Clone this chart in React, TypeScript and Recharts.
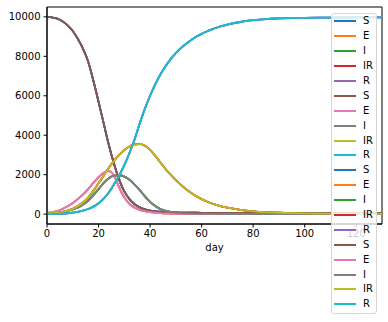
import React from "react";
import { LineChart, Line, XAxis, YAxis, ReferenceArea } from "recharts";

const days = [0,2,4,6,8,10,12,14,16,18,20,22,24,26,28,30,32,34,36,38,40,42,44,46,48,50,52,54,56,58,60,62,64,66,68,70,75,80,85,90,95,100,105,110,115,120,125,130];

const S = [10000,9970,9910,9780,9570,9280,8880,8380,7720,6760,5700,4600,3500,2550,1750,1150,760,500,340,240,180,145,120,105,95,85,80,75,72,70,68,66,65,64,63,62,61,60,60,59,59,59,58,58,58,58,58,58];
const E = [60,90,150,260,400,560,770,1000,1280,1580,1870,2100,2180,1950,1350,850,520,330,220,150,105,75,55,40,30,22,17,13,10,8,6,5,4,3,3,2,2,1,1,1,0,0,0,0,0,0,0,0];
const I = [30,40,60,100,160,240,340,490,690,960,1270,1580,1820,1950,1970,1900,1740,1500,1220,900,620,410,260,170,110,70,50,35,25,18,14,11,9,7,6,5,4,3,2,2,1,1,1,1,1,0,0,0];
const IR = [40,55,80,120,180,270,410,590,840,1180,1560,1950,2350,2700,3000,3250,3430,3540,3550,3470,3260,2960,2620,2290,2000,1720,1480,1260,1070,900,760,640,540,455,385,325,215,145,100,70,52,40,32,27,24,22,21,20];
const R = [0,5,12,25,45,75,115,175,260,380,550,790,1100,1500,1950,2480,3100,3800,4600,5350,6000,6580,7080,7500,7860,8160,8420,8640,8830,9000,9140,9260,9370,9460,9540,9610,9740,9830,9890,9920,9940,9950,9958,9964,9968,9971,9973,9975];

const seriesNames = ["S", "E", "I", "IR", "R"];
const groups = [0, 1, 2, 3];
const xTicks = [0, 20, 40, 60, 80, 100, 120];
const yTicks = [0, 2000, 4000, 6000, 8000, 10000];
const colors = ["#1f77b4","#ff7f0e","#2ca02c","#d62728","#9467bd","#8c564b","#e377c2","#7f7f7f","#bcbd22","#17becf"];

const seriesArrays: Record<string, number[]> = { S, E, I, IR, R };

const data = days.map((d, i) => {
  const row: Record<string, number> = { day: d };
  groups.forEach((g) => {
    seriesNames.forEach((n) => {
      row[`${n}_${g}`] = seriesArrays[n][i];
    });
  });
  return row;
});

const allSeries = groups.flatMap((g) => seriesNames.map((n, j) => ({ key: `${n}_${g}`, name: n, color: colors[(g * 5 + j) % 10] })));

const FONT = "DejaVu Sans";

export default function App() {
  return (
    <div style={{ position: "absolute", left: 0, top: 0, width: 388, height: 322, background: "#fff", fontFamily: FONT }}>
      <LineChart width={388} height={322} data={data} margin={{ top: 7, right: 6, bottom: 0, left: 0 }}>
        <XAxis
          dataKey="day"
          type="number"
          domain={[0, 130]}
          ticks={xTicks}
          allowDataOverflow
          height={98}
          tickSize={3.5}
          tickMargin={2.5}
          stroke="#000"
          tick={{ fill: "#000", fontSize: 10, fontFamily: FONT }}
          tickLine={{ stroke: "#000" }}
          label={{ value: "day", position: "insideTop", offset: 20, fill: "#000", fontSize: 10, fontFamily: FONT }}
        />
        <YAxis
          type="number"
          domain={[-500, 10500]}
          ticks={yTicks}
          allowDataOverflow
          width={47}
          tickSize={3.5}
          tickMargin={3}
          stroke="#000"
          tick={{ fill: "#000", fontSize: 10, fontFamily: FONT }}
          tickLine={{ stroke: "#000" }}
        />
        {allSeries.map((s) => (
          <Line
            key={s.key}
            dataKey={s.key}
            name={s.name}
            type="monotone"
            stroke={s.color}
            strokeWidth={1.8}
            dot={false}
            activeDot={false}
            isAnimationActive={false}
          />
        ))}
        <ReferenceArea x1={0} x2={130} y1={-500} y2={10500} fill="none" stroke="#000" strokeWidth={1} ifOverflow="visible" />
      </LineChart>
      <div
        style={{
          position: "absolute",
          left: 331,
          top: 13,
          width: 44,
          height: 299,
          background: "rgba(255,255,255,0.8)",
          border: "1px solid #d6d6d6",
          borderRadius: 3,
          boxSizing: "content-box",
          fontSize: 10,
          fontFamily: FONT,
          color: "#000",
        }}
      >
        {allSeries.map((s) => (
          <div key={s.key} style={{ height: 14.9, display: "flex", alignItems: "center" }}>
            <div style={{ marginLeft: 2, width: 22, height: 2, background: s.color }} />
            <span style={{ marginLeft: 7, lineHeight: "10px" }}>{s.name}</span>
          </div>
        ))}
      </div>
    </div>
  );
}
